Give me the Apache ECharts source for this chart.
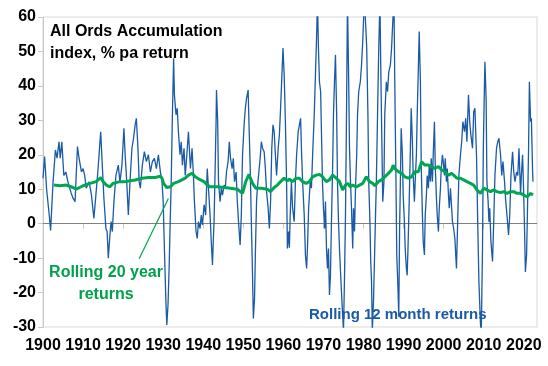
<!DOCTYPE html>
<html>
<head>
<meta charset="utf-8">
<script src="https://cdn.jsdelivr.net/npm/echarts@6/dist/echarts.min.js"></script>
<style>html,body{margin:0;padding:0;background:#fff}#c{width:548px;height:366px}</style>
</head>
<body>
<div id="c"></div>
<script>
// Rolling 12 month returns (% pa) - blue
const blueYears = [
1900.0,1900.4,1900.9,1901.6,1901.9,1902.5,1903.1,1903.5,1904.0,1904.3,1904.7,1905.2,1905.7,1906.25,1907.0,1907.5,1908.0,1908.6,1909.0,1909.6,
1910.0,1910.4,1910.8,1911.5,1912.1,1912.7,1913.2,1913.75,1914.4,1914.8,1915.2,1915.7,1916.0,1916.3,1916.7,1917.0,1917.3,1917.7,1918.2,1918.8,
1919.2,1919.7,1920.2,1920.5,1920.9,1921.3,1921.8,1922.2,1922.6,1923.0,1923.3,1923.7,1924.0,1924.3,1924.8,1925.3,1925.8,1926.3,1926.8,1927.3,
1927.8,1928.3,1928.8,1929.3,1929.7,1930.0,1930.3,1930.7,1930.9,1931.2,1931.5,1931.75,1932.0,1932.3,1932.6,1932.8,1933.2,1933.5,1933.8,1934.2,
1934.5,1934.8,1935.2,1935.5,1935.9,1936.3,1936.8,1937.2,1937.5,1937.8,1938.2,1938.5,1938.8,1939.2,1939.5,1939.8,1940.2,1940.6,1941.0,1941.3,
1941.7,1942.0,1942.3,1942.5,1942.7,1942.9,1943.2,1943.3,1943.6,1943.8,1944.2,1944.5,1944.8,1945.2,1945.5,1945.8,1946.2,1946.5,1946.8,1947.2,
1947.5,1947.8,1948.2,1948.5,1948.8,1949.2,1949.5,1949.8,1950.2,1950.5,1950.8,1951.2,1951.4,1951.7,1952.0,1952.3,1952.5,1952.8,1953.0,1953.3,
1953.5,1953.8,1954.2,1954.5,1954.8,1955.2,1955.5,1955.8,1956.2,1956.5,1956.8,1957.1,1957.4,1957.7,1958.0,1958.3,1958.7,1959.0,1959.3,1959.7,
1959.9,1960.2,1960.5,1960.8,1961.0,1961.3,1961.5,1961.7,1962.0,1962.3,1962.7,1963.0,1963.3,1963.7,1964.0,1964.3,1964.5,1964.8,1965.2,1965.5,
1965.8,1966.0,1966.3,1966.7,1967.0,1967.3,1967.7,1968.0,1968.3,1968.5,1968.75,1969.0,1969.3,1969.5,1969.75,1970.0,1970.3,1970.5,1970.75,1971.0,
1971.25,1971.5,1971.75,1972.0,1972.3,1972.5,1972.75,1973.0,1973.3,1973.5,1973.75,1974.0,1974.3,1974.7,1975.0,1975.25,1975.5,1975.75,1976.0,1976.3,
1976.5,1976.75,1977.0,1977.3,1977.5,1977.75,1978.0,1978.3,1978.5,1978.8,1979.2,1979.5,1979.8,1980.2,1980.5,1980.8,1981.1,1981.3,1981.6,1981.8,
1982.0,1982.2,1982.5,1982.8,1983.2,1983.5,1983.8,1984.1,1984.3,1984.6,1984.8,1985.1,1985.3,1985.7,1986.0,1986.3,1986.7,1987.0,1987.3,1987.6,
1987.8,1988.1,1988.3,1988.6,1988.8,1989.0,1989.2,1989.4,1989.7,1989.9,1990.2,1990.4,1990.7,1990.9,1991.1,1991.4,1991.7,1991.9,1992.2,1992.4,
1992.7,1992.9,1993.2,1993.4,1993.7,1993.9,1994.2,1994.4,1994.7,1994.9,1995.2,1995.4,1995.7,1995.9,1996.2,1996.4,1996.7,1996.9,1997.2,1997.4,
1997.7,1997.9,1998.2,1998.4,1998.7,1998.9,1999.2,1999.4,1999.7,1999.9,2000.2,2000.4,2000.7,2000.9,2001.2,2001.4,2001.7,2001.9,2002.2,2002.5,
2002.8,2003.2,2003.5,2003.8,2004.2,2004.5,2004.8,2005.2,2005.5,2005.8,2006.2,2006.5,2006.8,2007.2,2007.5,2007.8,2008.2,2008.5,2008.8,2009.2,
2009.4,2009.7,2009.9,2010.2,2010.3,2010.6,2010.8,2011.1,2011.3,2011.5,2011.8,2012.2,2012.5,2012.8,2013.2,2013.5,2013.8,2014.2,2014.5,2014.8,
2015.2,2015.5,2015.8,2016.2,2016.5,2016.8,2017.2,2017.5,2017.8,2018.2,2018.5,2018.8,2019.2,2019.4,2019.7,2019.9,2020.2,2020.4,2020.7,2020.9,
2021.2,2021.4,2021.7,2021.9,2022.2,2022.3
];
const blueValues = [
13.2,19.5,10.0,2,-2,12,21.4,19,23.8,19,23.8,14,15,12,9,7.4,6.4,22.4,19,15,
16,14,10.3,12.2,8.3,1.5,8.3,16,26.7,17,7.4,-1.4,-2.3,-10,-3.3,0.6,-2.3,6.4,14,17,
12,17,27.7,20,12.2,2.5,14,21.9,24.8,28.7,30.6,21.9,12.2,10.3,17,20.9,18,20,15,18,
19,16,20,15,12.2,6.4,-7.2,-23.6,-29.4,-23.6,-12,0.6,12.2,31.6,48,37.4,31.6,33.5,26.7,20,
23.8,17,21.9,14,20,26.7,16,21.9,15,6.4,-2.3,-4.3,0.6,-1.4,2.5,-0.4,5.5,2.5,16,10.3,
2.5,-5.2,-12,-5.2,0.6,12.2,29.6,38.8,29.6,12.2,6.4,10.3,8.3,11.2,10.3,15,18,23.8,19,16,
19,12.2,15,6.4,0.6,-6.2,2.5,20,28.7,33.5,36.4,38.8,29.6,17,0.6,-15,-27.5,-21.7,-9.1,6.4,
10.3,14,19,23.8,21.9,20.9,16,9.3,4.5,-1.4,6.4,21.9,28.7,26.7,20,14,21.9,25.8,33.5,45.1,
51,43,29.6,12.2,-7.2,-2.3,-7,2.5,12.2,4.5,0.6,12.2,20,26.7,28.7,30.6,21.9,12.2,2.5,-9.1,
-13,-7.2,4.5,12.2,10.3,20,31.6,43.2,54.8,65,51,41.2,38.3,26.7,12.2,4.5,-1.4,6.4,-7.2,-13,
-7.2,-20.7,-15,0.6,17,31.6,41.2,49,31.6,12.2,0.6,-7.2,-15,-24.6,-31,-16,2.5,31.6,65,41.2,
21.9,12.2,4.5,-7.2,4.5,-2.3,10.3,20,31.6,38.3,41.2,46,52.8,65,58.6,51,31.6,12.2,0.6,-11,
-16.8,-31,-22,-7.2,12.2,31.6,51,65,46,21.9,6.4,12.2,31.6,41.2,38.3,44,46,51,58.6,65,
41.2,12.2,-9.1,-18.8,-27,-2,12.2,27.7,20,8.3,0.6,-7.2,-13,-15,-7.2,6.4,21.9,33.5,23.8,14,
6.4,12.2,20,31.6,46,55.8,41.2,17,2.5,-5.2,-9.1,2.5,8.3,14,10.3,17,12.2,19,12.2,20,
29.6,17,7.4,2.5,-2.3,4.5,10.3,16,20,18,14,19,12.2,16,8.3,4.5,10.3,6.4,0.6,-1.4,
-4.3,-13,0.6,14,20,23.8,29.6,26.7,30.6,23.8,37.4,29.6,25.8,21.9,32.5,33.5,20,0.6,-16.8,-29.4,
-31,-7.2,21.9,41.2,47,36.4,12.2,6.4,0.6,4.5,-5.2,-11,0.6,14,21.9,23.8,24.8,20,14,18,
12.2,6.4,2.5,-3.3,2.5,14,20.9,15,12.2,15,14,21.9,8.3,14,20,12.2,-2.3,-14,-9.1,2.5,
21.9,41.2,29.6,30.6,15,12.2
];
// Rolling 20 year returns (% pa) - green
const greenYears = [
1902.7,1904.2,1905.8,1907.5,1908.3,1910,1911.7,1913.3,1914.4,1915,1915.8,1916.7,1917.5,1919.2,1920.5,1923,1924.7,1926.3,1928,1929.3,
1929.7,1930.1,1930.9,1931.8,1932.6,1933.8,1935.5,1936.3,1937.2,1938,1939.3,1940.2,1941,1941.8,1943.5,1945.2,1946.8,1948.5,1949.8,1950.6,
1951.4,1952.3,1953.1,1954.5,1956,1956.8,1957.7,1958.5,1959.3,1960.2,1961,1961.5,1962.3,1963.2,1964,1964.8,1965.7,1966.5,1967.3,1968.2,
1969,1969.8,1970.7,1971.5,1972.3,1973.2,1974,1974.8,1975.5,1976.1,1976.7,1977.3,1978.2,1979,1979.8,1980.7,1981.5,1982.3,1982.8,1983.7,
1984.5,1985.3,1986.2,1987,1987.4,1987.8,1988.7,1989.5,1990.3,1991.2,1992,1992.8,1993.7,1994.5,1994.9,1995.3,1996.2,1997,1997.8,1998.7,
1999.5,2000.3,2001.2,2002,2002.5,2003.3,2004.2,2005,2005.8,2006.7,2007.5,2008.3,2009.2,2010,2010.8,2011.7,2012.5,2013.3,2014.2,2015,
2015.8,2016.7,2017.5,2018.3,2019.2,2020,2020.8,2021.7,2022.3
];
const greenValues = [
11.2,11,11.2,10.5,10,11,11.7,12.2,13.4,12.2,11.2,10.7,11.7,12.2,12.2,12.7,13.2,13.4,13.4,13.8,
13.2,11.7,10.5,10.7,11.7,12.2,13.2,14.1,14.6,13.6,12.7,12.2,11.2,10.7,10.7,10.5,10.3,10,8.8,12.2,
14.3,11.7,10.3,10.3,10,9.3,10.5,11.2,12.2,13.2,12.4,12.9,12.2,13.2,13.2,12.2,11.7,12.2,13.6,14.1,
14.3,13.6,12.2,12.7,14.1,13.2,12.2,9.8,11.2,11.7,10.7,11.2,10.7,11.2,11.7,13.6,12.2,11.7,11,12.2,
12.7,13.6,14.6,15.6,17,16,15.1,14.6,13.6,13.2,13.6,15.1,15.1,18,18.5,17,17,16.6,16,16.6,
15.6,15.1,14.1,14.6,14.1,13.2,13.2,12.7,12.2,11.7,11.2,9.8,8.8,10.3,9.8,9.3,9.8,9.3,9,9.3,
8.8,9.3,9.3,8.8,8.8,8.3,7.8,8.8,8.3
];
const yearTicks = [1900,1910,1920,1930,1940,1950,1960,1970,1980,1990,2000,2010,2020];

const blueData = blueYears.map((y, i) => [y, blueValues[i]]);
const greenData = greenYears.map((y, i) => [y, greenValues[i]]);

const FONT = '"Liberation Sans", Arial, sans-serif';
const chart = echarts.init(document.getElementById('c'), null, {renderer: 'canvas'});
chart.setOption({
  animation: false,
  backgroundColor: '#fff',
  grid: {left: 43, right: 11, top: 17, bottom: 39, show: true, borderColor: '#d9d9d9', borderWidth: 1},
  xAxis: {
    type: 'value', min: 1900, max: 2023.3, interval: 10,
    axisLine: {show: true, lineStyle: {color: '#c8c8c8', width: 1}},
    axisTick: {show: true, length: 5, lineStyle: {color: '#c8c8c8'}},
    splitLine: {show: false},
    axisLabel: {
      showMaxLabel: false, margin: 11,
      color: '#000', fontSize: 16, fontWeight: 'bold', fontFamily: FONT,
      formatter: v => (yearTicks.indexOf(Math.round(v * 10) / 10) >= 0 ? String(v) : '')
    }
  },
  yAxis: {
    type: 'value', min: -30, max: 60, interval: 10,
    axisLine: {show: true, lineStyle: {color: '#c8c8c8', width: 1}},
    axisTick: {show: true, length: 5, lineStyle: {color: '#c8c8c8'}},
    splitLine: {show: false},
    axisLabel: {margin: 7, color: '#000', fontSize: 16, fontWeight: 'bold', fontFamily: FONT}
  },
  series: [
    {
      name: 'Rolling 12 month returns', type: 'line', data: blueData,
      showSymbol: false, symbol: 'none', clip: true,
      lineStyle: {color: '#1a5aa6', width: 1.3},
      z: 2,
      markLine: {
        silent: true, symbol: ['none', 'none'], z: 1,
        label: {show: false},
        lineStyle: {color: '#808080', width: 1, type: 'solid'},
        data: [{yAxis: 0}]
      }
    },
    {
      name: 'Rolling 20 year returns', type: 'line', data: greenData,
      showSymbol: false, symbol: 'none', clip: true,
      lineStyle: {color: '#00a651', width: 3},
      z: 3,
      markLine: {
        silent: true, symbol: ['none', 'arrow'], symbolSize: [0, 9], z: 6,
        label: {show: false},
        lineStyle: {color: '#00a651', width: 1.2, type: 'solid'},
        data: [[{coord: [1924.0, -10.2]}, {coord: [1931.3, 7.3]}]]
      }
    }
  ],
  graphic: [
    {type: 'text', left: 50, top: 20.5, z: 10,
     style: {text: 'All Ords Accumulation\nindex, % pa return', fill: '#000', font: 'bold 16px ' + FONT, lineHeight: 22}},
    {type: 'text', x: 106, y: 262, z: 10,
     style: {text: 'Rolling 20 year\nreturns', fill: '#00a14b', font: 'bold 16px ' + FONT, lineHeight: 22, align: 'center', verticalAlign: 'top'}},
    {type: 'text', x: 309, y: 315, z: 10,
     style: {text: 'Rolling 12 month returns', fill: '#1a5aa6', font: 'bold 15px ' + FONT, align: 'left', verticalAlign: 'middle'}}
  ]
});
</script>
</body>
</html>
